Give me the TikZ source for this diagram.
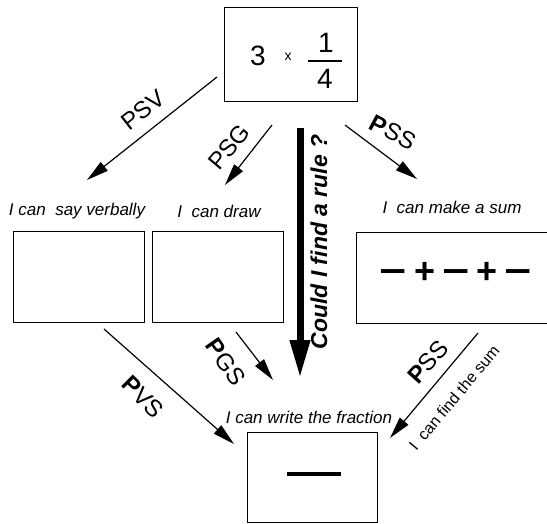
\documentclass[tikz,border=0pt]{standalone}
\usepackage{fontspec}
\usepackage{graphicx}
\setmainfont{Liberation Sans}
\usetikzlibrary{arrows.meta}
\newcommand{\wminus}{\scalebox{1.3}[1]{−}}
\begin{document}
\begin{tikzpicture}[x=1pt,y=-1pt,
  box/.style={draw, line width=1.3pt, inner sep=0pt, anchor=north west},
  arr/.style={-{Triangle[length=22pt,width=11pt]}, line width=1.2pt},
  lab/.style={font=\fontsize{24}{24}\selectfont, inner sep=0pt},
  capt/.style={font=\fontsize{17}{17}\selectfont\itshape, inner sep=0pt},
  big/.style={font=\fontsize{28}{28}\selectfont, inner sep=0pt}]
\useasboundingbox (0,0) rectangle (547,523);
\clip (0,0) rectangle (547,523);
% boxes
\node[box, minimum width=133pt, minimum height=94pt] (top) at (224,7) {};
\node[box, minimum width=131pt, minimum height=91pt] (lbox) at (13,231) {};
\node[box, minimum width=131pt, minimum height=91pt] (mbox) at (152,231) {};
\node[box, minimum width=200pt, minimum height=91pt] (rbox) at (356,232) {};
\node[box, minimum width=130pt, minimum height=90pt] (bbox) at (247,432) {};
% top box content
\node[big] (three) at (258,56) {3};
\node[font=\fontsize{14}{14}\selectfont, inner sep=0pt] (times) at (288,57) {x};
\node[big] (num) at (326,43) {1};
\node[big] (den) at (325,79) {4};
\draw[line width=1.5pt] (308,61) -- (342,61);
% bottom box bar
\draw[line width=4pt] (287,474) -- (341,474);
% sum
\node[font=\fontsize{36}{36}\selectfont\bfseries, inner sep=0pt] (sum) at (456,273) {\wminus\hspace{7pt}+\hspace{7pt}\wminus\hspace{7pt}+\hspace{7pt}\wminus};
% arrow endpoints
\coordinate (a1s) at (217,77);  \coordinate (a1e) at (87,180);
\coordinate (a2s) at (272,125); \coordinate (a2e) at (225,185);
\coordinate (a3s) at (345,125); \coordinate (a3e) at (417,179);
\coordinate (a4s) at (104,329); \coordinate (a4e) at (234,444);
\coordinate (a5s) at (236,332); \coordinate (a5e) at (273,380);
\coordinate (a6s) at (478,333); \coordinate (a6e) at (390,438);
\coordinate (ts) at (300,128);  \coordinate (te) at (300,378);
\draw[arr] (a1s) -- (a1e);
\draw[arr] (a2s) -- (a2e);
\draw[arr] (a3s) -- (a3e);
\draw[arr] (a4s) -- (a4e);
\draw[arr] (a5s) -- (a5e);
\draw[arr] (a6s) -- (a6e);
\draw[line width=7pt, -{Triangle[length=38pt,width=19pt]}] (ts) -- (te);
% labels
\node[lab, rotate=38] (lpsv) at (143,110) {PSV};
\node[lab, rotate=50] (lpsg) at (229,147) {PSG};
\node[lab, rotate=-28] (lpss) at (393,132) {\textbf{P}SS};
\node[lab, rotate=-55] (lpgs) at (226,362) {\textbf{P}GS};
\node[lab, rotate=-45] (lpvs) at (143,397) {\textbf{P}VS};
\node[lab, rotate=48] (lpss2) at (428,362) {\textbf{P}SS};
% captions
\node[capt] (c1) at (77,211) {I can\ \ say verbally};
\node[capt] (c2) at (219,211) {I\ \ can draw};
\node[capt] (c3) at (452,207) {I\ \ can make a sum};
\node[capt] (c4) at (309,417) {I can write the fraction};
\node[font=\fontsize{16}{16}\selectfont, rotate=50, inner sep=0pt] (c5) at (454,398) {I\ \ can find the sum};
\node[font=\fontsize{23}{23}\selectfont\bfseries\itshape, rotate=90, inner sep=0pt] (rule) at (319,242) {Could I find a rule ?};
\end{tikzpicture}
\end{document}
